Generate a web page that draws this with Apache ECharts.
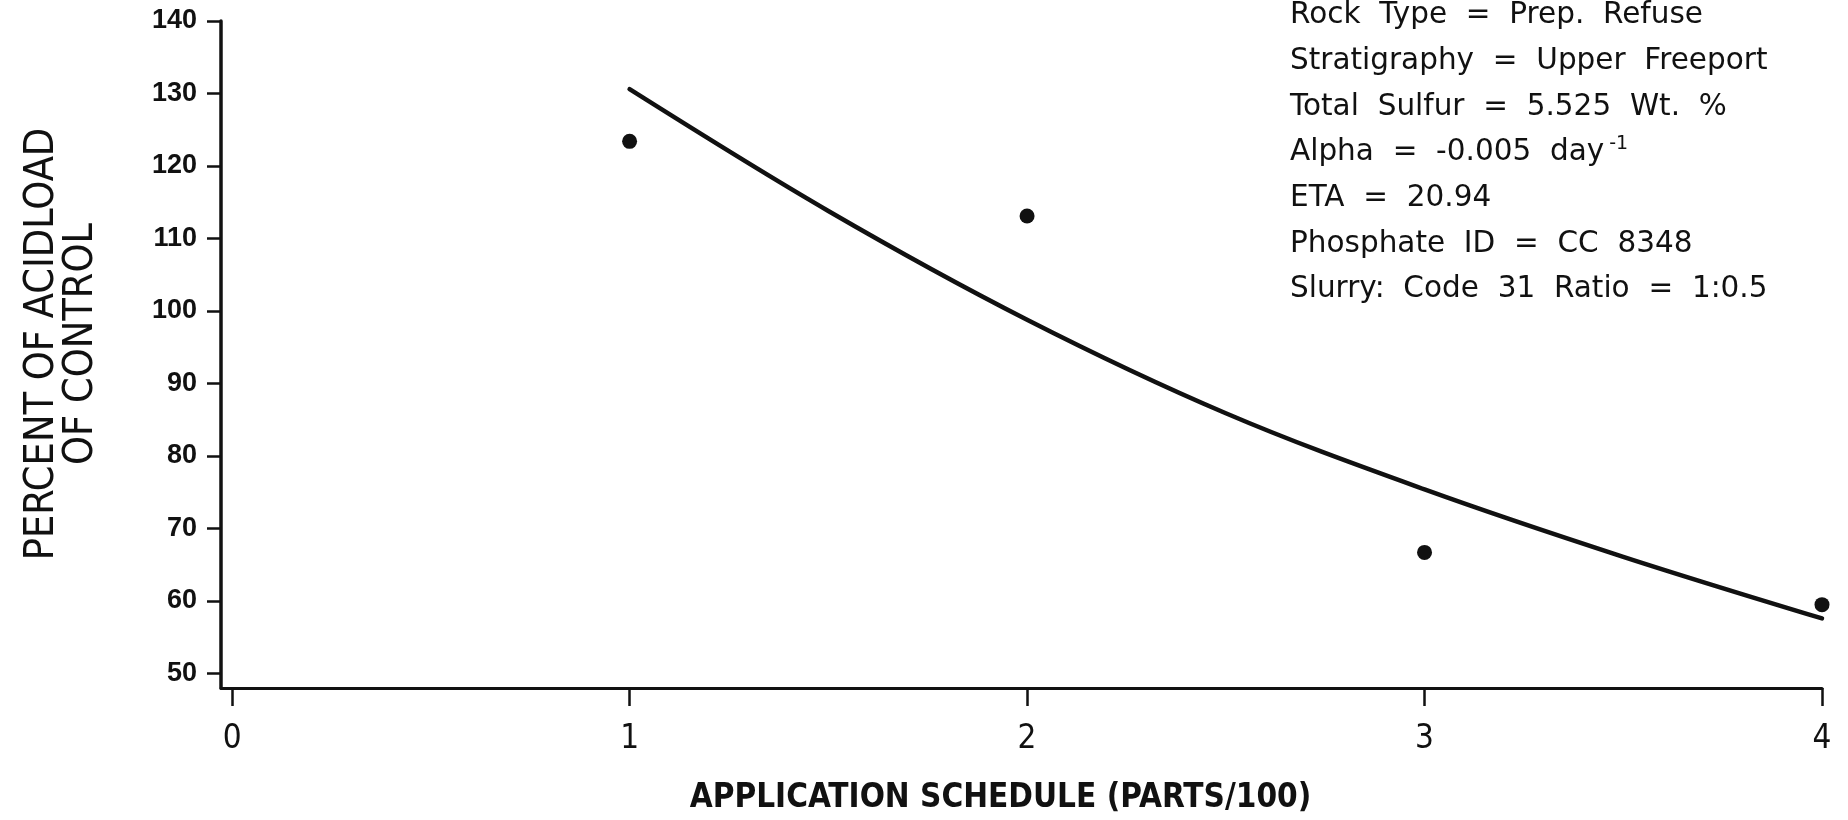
<!DOCTYPE html>
<html>
<head>
<meta charset="utf-8">
<script src="https://cdn.jsdelivr.net/npm/echarts@6/dist/echarts.min.js"></script>
<style>
  html, body { margin: 0; padding: 0; background: #fff; }
  #chart { width: 1848px; height: 820px; }
</style>
</head>
<body>
<div id="chart"></div>
<script>
// Measured acid load (percent of control) at each application rate
const sampleX = [1, 2, 3, 4];
const sampleY = [123.4, 113.1, 66.7, 59.5];

// Fitted decay curve
const fitX = [1, 1.5, 2, 2.5, 3, 3.5, 4];
const fitY = [130.6, 113.8, 98.8, 85.9, 75.4, 66.1, 57.6];

// Axis ticks
const xTicks = [0, 1, 2, 3, 4];
const yTicks = [50, 60, 70, 80, 90, 100, 110, 120, 130, 140];

// Sample description
const noteLines = [
  'Rock  Type  =  Prep.  Refuse',
  'Stratigraphy  =  Upper  Freeport',
  'Total  Sulfur  =  5.525  Wt.  %',
  '{t|Alpha  =  -0.005  day}{sup|-1}',
  'ETA  =  20.94',
  'Phosphate  ID  =  CC  8348',
  'Slurry:  Code  31  Ratio  =  1:0.5'
];

const xTitle = 'APPLICATION SCHEDULE (PARTS/100)';
const yTitleLines = ['PERCENT OF ACIDLOAD', 'OF CONTROL'];

const ink = '#111';
const narrow = "'Liberation Sans Narrow', 'DejaVu Sans Condensed', 'Liberation Sans', sans-serif";

const chart = echarts.init(document.getElementById('chart'), null, { renderer: 'canvas' });

const graphics = [];
noteLines.forEach((line, i) => {
  graphics.push({
    type: 'text',
    x: 1290,
    y: 15.5 + i * 45.7,
    style: {
      text: line,
      fill: ink,
      font: "29.5px 'DejaVu Sans'",
      textVerticalAlign: 'middle',
      rich: {
        t: { fontFamily: 'DejaVu Sans', fontSize: 29.5, fill: ink },
        sup: { fontFamily: 'DejaVu Sans', fontSize: 19, fill: ink, padding: [0, 0, 18, 5] }
      }
    }
  });
});
yTitleLines.forEach((line, i) => {
  graphics.push({
    type: 'text',
    x: 42 + i * 39,
    y: 344,
    rotation: Math.PI / 2,
    style: {
      text: line,
      fill: ink,
      font: "41px " + narrow,
      textAlign: 'center',
      textVerticalAlign: 'middle'
    }
  });
});

chart.setOption({
  backgroundColor: '#fff',
  animation: false,
  grid: { left: 221, right: 26, top: 21, bottom: 124 },
  xAxis: {
    type: 'value',
    min: -0.028,
    max: 4,
    name: xTitle,
    nameLocation: 'middle',
    nameGap: 94,
    nameTextStyle: { color: ink, fontFamily: narrow, fontWeight: 'bold', fontSize: 33, padding: [0, 42, 0, 0] },
    axisLine: { onZero: false, lineStyle: { color: ink, width: 3 } },
    axisTick: { show: true, length: 18, lineStyle: { color: ink, width: 2.5 }, customValues: xTicks },
    axisLabel: { color: ink, fontFamily: narrow, fontSize: 33, margin: 35, customValues: xTicks },
    splitLine: { show: false }
  },
  yAxis: {
    type: 'value',
    min: 48,
    max: 140,
    axisLine: { show: true, onZero: false, lineStyle: { color: ink, width: 3.5 } },
    axisTick: { show: true, length: 14, lineStyle: { color: ink, width: 2.5 }, customValues: yTicks },
    axisLabel: { color: ink, fontFamily: 'Liberation Sans', fontWeight: 'bold', fontSize: 27, margin: 24, customValues: yTicks },
    splitLine: { show: false }
  },
  series: [
    {
      type: 'line',
      data: fitX.map((x, i) => [x, fitY[i]]),
      smooth: 0.35,
      showSymbol: false,
      lineStyle: { color: ink, width: 4.5, cap: 'round' },
      z: 2
    },
    {
      type: 'scatter',
      data: sampleX.map((x, i) => [x, sampleY[i]]),
      symbol: 'circle',
      symbolSize: 15,
      itemStyle: { color: ink, opacity: 1 },
      z: 3
    }
  ],
  graphic: graphics
});
</script>
</body>
</html>
